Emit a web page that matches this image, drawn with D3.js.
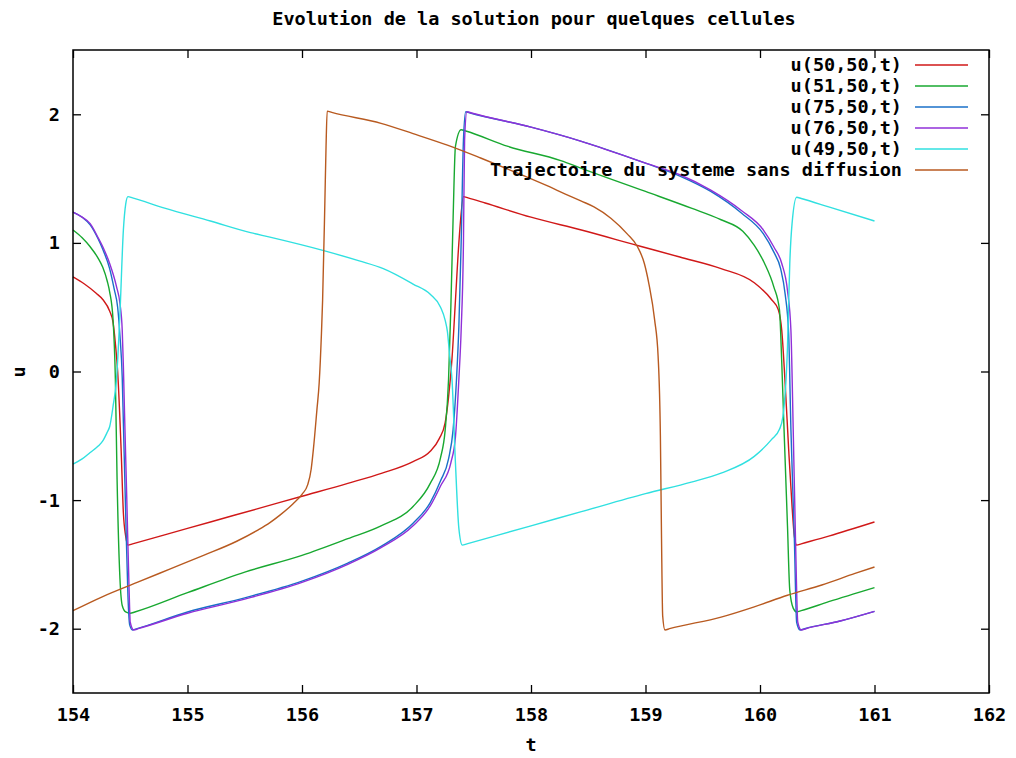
<!DOCTYPE html>
<html>
<head>
<meta charset="utf-8">
<script src="https://cdn.jsdelivr.net/npm/d3@7"></script>
<style>
  html, body { margin: 0; padding: 0; background: #fff; }
  svg { display: block; }
  text { font-family: "DejaVu Sans Mono", "Liberation Mono", monospace; font-weight: bold; fill: #000; }
</style>
</head>
<body>
<svg id="chart" width="1016" height="758"></svg>
<script>
// ---- Data ----
const chartTitle = "Evolution de la solution pour quelques cellules";
const xLabel = "t";
const yLabel = "u";
const xTicks = [154, 155, 156, 157, 158, 159, 160, 161, 162];
const yTicks = [-2, -1, 0, 1, 2];
const seriesNames = ["u(50,50,t)", "u(51,50,t)", "u(75,50,t)", "u(76,50,t)", "u(49,50,t)", "Trajectoire du systeme sans diffusion"];
const seriesColors = ["#d01818", "#18a830", "#1a70c8", "#9030d8", "#30e0e0", "#b85a20"];

// [t, u]
const u50 = [
  [154.00, 0.735], [154.10, 0.68], [154.20, 0.61], [154.26, 0.56], [154.32, 0.47], [154.35, 0.38],
  [154.37, 0.22], [154.39, 0.00], [154.42, -0.60], [154.44, -1.10], [154.46, -1.28], [154.48, -1.35],
  [154.52, -1.34], [154.80, -1.27], [155.20, -1.17], [155.60, -1.07], [156.00, -0.97], [156.40, -0.87],
  [156.70, -0.79], [156.97, -0.70], [157.12, -0.62], [157.20, -0.52], [157.25, -0.40], [157.28, -0.20],
  [157.31, 0.10], [157.34, 0.55], [157.37, 1.00], [157.41, 1.36], [157.45, 1.35], [157.60, 1.31],
  [158.00, 1.20], [158.44, 1.10], [158.93, 0.98], [159.30, 0.89], [159.66, 0.80], [159.95, 0.69],
  [160.10, 0.56], [160.16, 0.48], [160.19, 0.32], [160.22, -0.10], [160.25, -0.60], [160.28, -1.05],
  [160.30, -1.28], [160.32, -1.35], [160.36, -1.34], [160.60, -1.28], [161.00, -1.17]
];
const u51 = [
  [154.00, 1.10], [154.08, 1.04], [154.15, 0.97], [154.22, 0.88], [154.26, 0.81], [154.30, 0.70],
  [154.32, 0.62], [154.35, 0.40], [154.37, -0.06], [154.385, -0.84], [154.41, -1.61], [154.43, -1.82],
  [154.46, -1.87], [154.50, -1.88], [154.54, -1.87], [155.00, -1.72], [155.50, -1.56], [156.00, -1.43],
  [156.40, -1.30], [156.69, -1.20], [156.97, -1.05], [157.12, -0.87], [157.21, -0.67], [157.25, -0.46],
  [157.28, -0.06], [157.30, 0.50], [157.32, 1.20], [157.34, 1.75], [157.39, 1.88], [157.43, 1.87],
  [157.80, 1.75], [158.26, 1.64], [158.44, 1.58], [159.00, 1.40], [159.40, 1.27], [159.66, 1.18],
  [159.85, 1.09], [159.95, 0.98], [160.04, 0.84], [160.12, 0.66], [160.17, 0.48], [160.19, 0.07],
  [160.21, -0.45], [160.24, -1.20], [160.26, -1.70], [160.29, -1.84], [160.32, -1.87], [160.36, -1.86],
  [160.60, -1.79], [161.00, -1.68]
];
const u75 = [
  [154.00, 1.24], [154.08, 1.20], [154.15, 1.14], [154.22, 1.03], [154.26, 0.95], [154.32, 0.80],
  [154.36, 0.64], [154.39, 0.50], [154.41, 0.28], [154.43, -0.05], [154.44, -0.40], [154.46, -1.10],
  [154.48, -1.75], [154.495, -1.97], [154.52, -2.01], [154.56, -2.00], [155.00, -1.87], [155.50, -1.76],
  [156.00, -1.63], [156.40, -1.49], [156.69, -1.36], [156.97, -1.18], [157.12, -1.02], [157.21, -0.85],
  [157.28, -0.68], [157.32, -0.45], [157.35, -0.05], [157.37, 0.35], [157.39, 1.00], [157.41, 1.80],
  [157.43, 2.02], [157.47, 2.01], [158.00, 1.90], [158.44, 1.79], [159.00, 1.62], [159.30, 1.52],
  [159.57, 1.40], [159.84, 1.23], [160.03, 1.07], [160.12, 0.93], [160.18, 0.80], [160.22, 0.60],
  [160.25, 0.30], [160.27, -0.45], [160.30, -1.30], [160.32, -1.95], [160.35, -2.01], [160.39, -2.00],
  [160.70, -1.94], [161.00, -1.865]
];
const u76 = [
  [154.00, 1.24], [154.08, 1.20], [154.15, 1.15], [154.22, 1.04], [154.26, 0.97], [154.32, 0.84],
  [154.38, 0.66], [154.41, 0.53], [154.43, 0.32], [154.44, 0.04], [154.45, -0.32], [154.47, -1.00],
  [154.49, -1.70], [154.50, -1.95], [154.53, -2.01], [154.57, -2.00], [155.00, -1.88], [155.50, -1.77],
  [156.00, -1.64], [156.40, -1.50], [156.69, -1.37], [156.97, -1.20], [157.12, -1.045], [157.21, -0.89],
  [157.30, -0.71], [157.34, -0.51], [157.37, -0.06], [157.39, 0.32], [157.41, 1.00], [157.42, 1.80],
  [157.44, 2.02], [157.48, 2.01], [158.00, 1.90], [158.44, 1.79], [159.00, 1.62], [159.30, 1.53],
  [159.57, 1.41], [159.84, 1.25], [160.03, 1.10], [160.12, 0.97], [160.19, 0.84], [160.24, 0.63],
  [160.27, 0.32], [160.29, -0.45], [160.31, -1.30], [160.33, -1.95], [160.36, -2.01], [160.40, -2.00],
  [160.70, -1.94], [161.00, -1.865]
];
const u49 = [
  [154.00, -0.72], [154.08, -0.68], [154.15, -0.63], [154.22, -0.58], [154.26, -0.54], [154.30, -0.47],
  [154.32, -0.43], [154.35, -0.27], [154.38, -0.06], [154.41, 0.45], [154.44, 1.10], [154.46, 1.30],
  [154.48, 1.36], [154.52, 1.35], [154.80, 1.27], [155.20, 1.17], [155.55, 1.08], [155.72, 1.045],
  [156.19, 0.94], [156.50, 0.86], [156.71, 0.80], [156.97, 0.68], [157.12, 0.60], [157.21, 0.50],
  [157.25, 0.40], [157.27, 0.31], [157.29, 0.12], [157.31, -0.06], [157.34, -0.71], [157.37, -1.22],
  [157.40, -1.35], [157.44, -1.34], [158.00, -1.20], [158.44, -1.09], [159.00, -0.95], [159.40, -0.86],
  [159.66, -0.79], [159.95, -0.66], [160.10, -0.53], [160.17, -0.45], [160.20, -0.35], [160.24, 0.19],
  [160.26, 0.84], [160.28, 1.15], [160.32, 1.355], [160.36, 1.345], [160.60, 1.28], [161.00, 1.17]
];
const noDiffusion = [
  [154.00, -1.86], [154.26, -1.75], [154.56, -1.64], [154.85, -1.535], [155.14, -1.43], [155.43, -1.32],
  [155.61, -1.235], [155.72, -1.175], [155.81, -1.115], [155.92, -1.03], [156.00, -0.955], [156.05, -0.88],
  [156.08, -0.76], [156.10, -0.60], [156.13, -0.30], [156.15, -0.09], [156.17, 0.30], [156.18, 0.555],
  [156.20, 1.33], [156.21, 1.75], [156.22, 2.025], [156.26, 2.015], [156.69, 1.93], [156.97, 1.85],
  [157.27, 1.76], [157.56, 1.66], [157.85, 1.555], [158.14, 1.445], [158.30, 1.38], [158.44, 1.325],
  [158.55, 1.28], [158.70, 1.19], [158.84, 1.07], [158.93, 0.97], [158.99, 0.84], [159.03, 0.68],
  [159.08, 0.40], [159.11, 0.12], [159.13, -0.50], [159.14, -1.30], [159.15, -1.90], [159.17, -2.01],
  [159.21, -2.00], [159.66, -1.91], [159.95, -1.83], [160.24, -1.74], [160.54, -1.66], [160.83, -1.57],
  [161.00, -1.52]
];
const seriesData = [u50, u51, u75, u76, u49, noDiffusion];

// ---- Layout ----
const W = 1016, H = 758;
const plot = { left: 73, right: 989, top: 50, bottom: 693 };

const svg = d3.select("#chart");
svg.append("rect").attr("width", W).attr("height", H).attr("fill", "#fff");

const x = d3.scaleLinear().domain([154, 162]).range([plot.left, plot.right]);
const y = d3.scaleLinear().domain([-2.5, 2.5]).range([plot.bottom, plot.top]);

const fontSize = 18.5;

// Axes (inward ticks, mirrored)
const gB = svg.append("g").attr("transform", `translate(0,${plot.bottom})`)
  .call(d3.axisBottom(x).tickValues(xTicks).tickSize(-8).tickPadding(15).tickFormat(d3.format("d")));
const gT = svg.append("g").attr("transform", `translate(0,${plot.top})`)
  .call(d3.axisTop(x).tickValues(xTicks).tickSize(-8).tickFormat(""));
const gL = svg.append("g").attr("transform", `translate(${plot.left},0)`)
  .call(d3.axisLeft(y).tickValues(yTicks).tickSize(-8).tickPadding(13).tickFormat(d3.format("d")));
const gR = svg.append("g").attr("transform", `translate(${plot.right},0)`)
  .call(d3.axisRight(y).tickValues(yTicks).tickSize(-8).tickFormat(""));

[gB, gT, gL, gR].forEach(g => {
  g.select(".domain").remove();
  g.selectAll(".tick line").attr("stroke", "#000").attr("stroke-width", 1.3);
  g.selectAll("text").attr("font-size", fontSize)
    .attr("font-family", "DejaVu Sans Mono, monospace").attr("font-weight", "bold").attr("fill", "#000");
});
gL.selectAll("text").text(d => d < 0 ? "-" + Math.abs(d) : d);

// Series
const line = d3.line().curve(d3.curveMonotoneX).x(d => x(d[0])).y(d => y(d[1]));
const gS = svg.append("g");
seriesData.forEach((data, i) => {
  gS.append("path").datum(data)
    .attr("d", line)
    .attr("fill", "none")
    .attr("stroke", seriesColors[i])
    .attr("stroke-width", 1.4)
    .attr("stroke-linejoin", "round");
});

// Frame
svg.append("rect")
  .attr("x", plot.left).attr("y", plot.top)
  .attr("width", plot.right - plot.left).attr("height", plot.bottom - plot.top)
  .attr("fill", "none").attr("stroke", "#000").attr("stroke-width", 1.5);

// Legend
const legend = svg.append("g");
const legTextX = 902, legLineX1 = 915, legLineX2 = 968, legY0 = 65, legDy = 21;
seriesNames.forEach((name, i) => {
  const yy = legY0 + i * legDy;
  legend.append("text").attr("x", legTextX).attr("y", yy).attr("dy", "0.35em")
    .attr("text-anchor", "end").attr("font-size", fontSize).text(name);
  legend.append("line").attr("x1", legLineX1).attr("x2", legLineX2).attr("y1", yy).attr("y2", yy)
    .attr("stroke", seriesColors[i]).attr("stroke-width", 1.4);
});

// Title and axis labels
svg.append("text").attr("x", 534).attr("y", 19).attr("dy", "0.35em")
  .attr("text-anchor", "middle").attr("font-size", fontSize).text(chartTitle);
svg.append("text").attr("x", 531).attr("y", 745).attr("dy", "0.35em")
  .attr("text-anchor", "middle").attr("font-size", fontSize).text(xLabel);
svg.append("text").attr("transform", "translate(19,372) rotate(-90)").attr("dy", "0.35em")
  .attr("text-anchor", "middle").attr("font-size", fontSize).text(yLabel);
</script>
</body>
</html>
